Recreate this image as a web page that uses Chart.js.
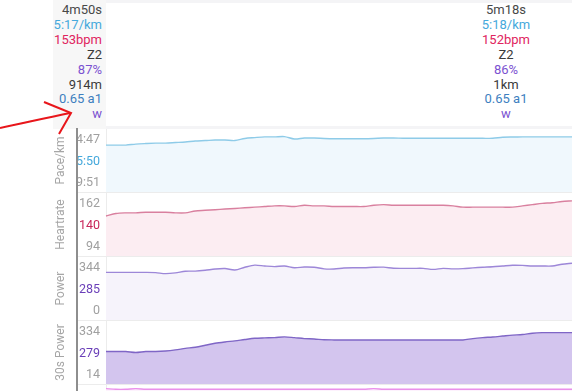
<!DOCTYPE html>
<html>
<head>
<meta charset="utf-8">
<script src="https://cdn.jsdelivr.net/npm/chart.js@4.4.1/dist/chart.umd.min.js"></script>
<style>
html,body{margin:0;padding:0;background:#fff;overflow:hidden;width:572px;height:391px;font-family:Roboto,sans-serif;}
.strip{position:absolute;background:#f4f4f6;}
.col{position:absolute;top:0;height:126px;padding-top:3px;font-size:13px;line-height:14.9px;}
#left{left:53px;width:49px;padding-right:4px;text-align:right;background:#f7f7f7;}
#right{left:446px;width:120px;text-align:center;}
.panel{position:absolute;left:50px;}
.sep{position:absolute;left:78px;width:494px;height:1px;background:#ececec;}
#axisline{position:absolute;left:76px;top:128px;width:2px;height:263px;background:#8e8e8e;}
svg{position:absolute;left:0;top:0;}
</style>
</head>
<body>
<div class="strip" style="left:106px;top:0;width:466px;height:3px;"></div>
<div class="strip" style="left:53px;top:126px;width:519px;height:3px;"></div>
<div class="col" id="left"></div>
<div class="col" id="right"></div>

<canvas class="panel" id="pace" width="522" height="63" style="top:129px"></canvas>
<div class="sep" style="top:192px"></div>
<canvas class="panel" id="hr" width="522" height="63" style="top:193px"></canvas>
<div class="sep" style="top:256px"></div>
<canvas class="panel" id="power" width="522" height="63" style="top:257px"></canvas>
<div class="sep" style="top:320px"></div>
<canvas class="panel" id="power30" width="522" height="63" style="top:321px"></canvas>
<div class="sep" style="top:384px"></div>
<canvas class="panel" id="extra" width="522" height="63" style="top:385px"></canvas>
<div id="axisline"></div>

<svg width="120" height="140">
  <path d="M0 128 C 20 124, 45 118, 70 113" stroke="#e8161b" stroke-width="2" fill="none"/>
  <path d="M44 102 L71 113 L59 134" stroke="#e8161b" stroke-width="2" fill="none"/>
</svg>

<script>
// stats shown above the graphs (cursor column / lap column)
const leftStats = ['4m50s', '5:17/km', '153bpm', 'Z2', '87%', '914m', '0.65 a1', 'w'];
const rightStats = ['5m18s', '5:18/km', '152bpm', 'Z2', '86%', '1km', '0.65 a1', 'w'];
const statColors = ['#484848', '#45a9dc', '#e0245e', '#3a3a3a', '#7b52d1', '#3a3a3a', '#3d7fbf', '#7b52d1'];

// pace in seconds per km
const pace = [323,323,323,316,312,309,309,305,301,294,291,287,287,291,276,270,265,265,263,280,
  273,273,276,278,278,278,278,276,273,273,275,275,275,275,275,275,275,275,275,275,
  268,266,265,265,265,265,265,265];
const heartrate = [143,147,148,148,149,149,149,148,148,151,152,153,154,155,156,157,158,159,159,158,
  160,159,159,158,158,158,158,160,161,160,160,160,160,160,160,159,157,157,157,157,
  157,157,159,161,163,164,166,167];
const power = [309,309,309,309,309,307,299,305,318,319,326,336,340,328,350,367,360,355,360,346,
  352,350,337,336,344,346,346,350,351,342,341,341,341,333,341,337,339,345,350,354,
  360,366,365,360,360,360,374,382];
const power30 = [189,189,189,182,189,189,193,201,212,221,235,250,260,268,278,287,290,292,298,292,
  285,282,276,275,275,275,275,275,275,275,275,275,275,275,275,275,275,285,292,297,
  304,311,315,325,329,329,329,329];
// panel below, only its top edge shows
const extra = [193,192,192,193,192,192,192,192,192,192,192,192,192,192,192,192,192,192,192,192,
  192,192,192,192,192,192,192,193,192,192,192,192,192,192,192,192,192,192,192,192,
  192,192,192,192,192,192,192,192];

// tick values (top, middle, bottom) and what the axis prints there
const paceTicks = [287, 439, 591];
const paceLabels = ['4:47', '5:50', '9:51'];
const hrTicks = [162, 128, 94];
const hrLabels = ['162', '140', '94'];
const powerTicks = [344, 172, 0];
const powerLabels = ['344', '285', '0'];
const power30Ticks = [334, 174, 14];
const power30Labels = ['334', '279', '14'];
const extraTicks = [182, 150, 118];
const extraLabels = ['', '', ''];

function writeStats(id, list) {
  const el = document.getElementById(id);
  el.innerHTML = list.map((t, i) => '<div style="color:' + statColors[i] + '">' + t + '</div>').join('');
}
writeStats('left', leftStats);
writeStats('right', rightStats);

function makePanel(id, title, values, ticks, labels, midColor, lineColor, areaColor, reverse) {
  const per = Math.abs(ticks[0] - ticks[2]) / 43;
  let min, max;
  if (reverse) { min = ticks[0] - 11 * per; max = ticks[2] + 9 * per; }
  else { max = ticks[0] + 11 * per; min = ticks[2] - 9 * per; }
  return new Chart(document.getElementById(id), {
    type: 'line',
    data: {
      labels: values.map((v, i) => i),
      datasets: [{
        data: values,
        borderColor: lineColor,
        backgroundColor: areaColor,
        borderWidth: 1.4,
        fill: 'start',
        pointRadius: 0,
        tension: 0.3
      }]
    },
    options: {
      responsive: false,
      animation: false,
      devicePixelRatio: 1,
      layout: { padding: 0 },
      plugins: { legend: { display: false }, tooltip: { enabled: false } },
      scales: {
        x: { display: false, offset: false },
        y: {
          reverse: reverse,
          min: min,
          max: max,
          afterFit: s => { s.width = 56; s.paddingTop = 0; s.paddingBottom = 0; },
          afterBuildTicks: s => { s.ticks = ticks.map(v => ({ value: v })); },
          grid: { display: false, drawTicks: false },
          border: { display: true, color: '#ececec', width: 1 },
          title: { display: true, text: title, color: '#a6a6a6', font: { family: 'Roboto', size: 12 }, padding: { top: 4, bottom: 0 } },
          ticks: {
            padding: 6,
            autoSkip: false,
            font: { family: 'Roboto', size: 12.5 },
            color: c => c.index === 1 ? midColor : '#a0a0a0',
            callback: (v, i) => labels[i]
          }
        }
      }
    }
  });
}

makePanel('pace', 'Pace/km', pace, paceTicks, paceLabels, '#45a9dc', '#8ecbe8', '#f0f8fd', true);
makePanel('hr', 'Heartrate', heartrate, hrTicks, hrLabels, '#c8265a', '#d9809f', '#fcedf2', false);
makePanel('power', 'Power', power, powerTicks, powerLabels, '#6a3fb8', '#9d87d8', '#f6f3fb', false);
makePanel('power30', '30s Power', power30, power30Ticks, power30Labels, '#6a3fb8', '#7f66c6', '#d3c5ee', false);
makePanel('extra', '', extra, extraTicks, extraLabels, '#d050d0', '#ea90ea', '#fdf2fd', false);
</script>
</body>
</html>
